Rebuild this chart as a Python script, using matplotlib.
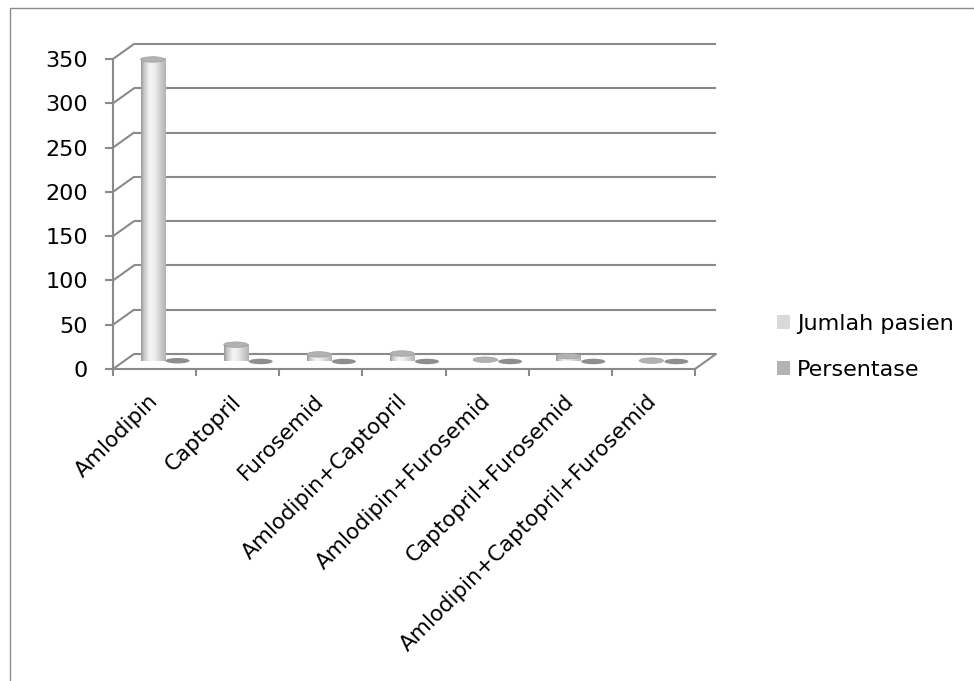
import matplotlib.pyplot as plt
import numpy as np
from matplotlib.patches import Ellipse, Patch, Rectangle, ConnectionPatch

# data
kategori = ["Amlodipin", "Captopril", "Furosemid", "Amlodipin+Captopril",
            "Amlodipin+Furosemid", "Captopril+Furosemid",
            "Amlodipin+Captopril+Furosemid"]
jumlah_pasien = [341, 19, 8, 9, 2, 6, 1]
persentase = [0.883, 0.049, 0.021, 0.023, 0.005, 0.016, 0.003]
y_ticks = [0, 50, 100, 150, 200, 250, 300, 350]

W, H = 974, 681
fig = plt.figure(figsize=(W / 100, H / 100), dpi=100)
plt.rcParams['font.family'] = ['DejaVu Sans']

# front plane of the fake 3d box (pixels) and its depth offset
x0, x1, yb, yt = 113, 695, 369, 59
DX, DY = 21, 15
grid_c = '#8a8a8a'
lw = 1.5


def box(dx, dy):
    return [(x0 + dx) / W, (H - yb + dy) / H, (x1 - x0) / W, (yb - yt) / H]


ax_back = fig.add_axes(box(DX, DY), zorder=0)
ax = fig.add_axes(box(0, 0), zorder=1)
ax_mid = fig.add_axes(box(DX / 2, DY / 2), zorder=2)
n = len(kategori)
for a in (ax_back, ax, ax_mid):
    a.set_facecolor('none')
ax_back.axis('off')
ax_mid.axis('off')

# back wall gridlines + left wall diagonals + floor
ax_back.hlines(y_ticks, 0, n, color=grid_c, lw=lw, clip_on=False)
for v in y_ticks:
    ax_back.add_artist(ConnectionPatch((0, v), (0, v), coordsA=ax.transData,
                                       coordsB=ax_back.transData,
                                       color=grid_c, lw=lw))
ax_back.add_artist(ConnectionPatch((n, 0), (n, 0), coordsA=ax.transData,
                                   coordsB=ax_back.transData,
                                   color=grid_c, lw=lw))

# front axes
for s in ['top', 'right']:
    ax.spines[s].set_visible(False)
for s in ['left', 'bottom']:
    ax.spines[s].set_color(grid_c)
    ax.spines[s].set_linewidth(lw)
ax.set_yticks(y_ticks)
ax.tick_params(axis='y', length=6, width=lw, color=grid_c, pad=12,
               labelsize=16, labelcolor='black')
ax.set_xticks(np.arange(n + 1))
ax.set_xticklabels([])
ax.tick_params(axis='x', which='major', length=5, width=lw, color=grid_c)
ax.set_xticks(np.arange(n) + 0.5, minor=True)
ax.set_xticklabels(kategori, minor=True, rotation=45, ha='right',
                   va='center', rotation_mode='anchor')
ax.tick_params(axis='x', which='minor', length=0, pad=21, labelsize=15.5,
               labelcolor='black')

# cylinders
w = 0.29
eh = 5.5 / ((yb - yt) / 350)
stops = [0, 0.12, 0.35, 0.55, 0.8, 1]
levels = [0.60, 0.78, 0.96, 0.93, 0.80, 0.70]
g = np.interp(np.linspace(0, 1, 60), stops, levels)
grad = np.stack([g, g, g], axis=-1)[np.newaxis, :, :]

for i, v in enumerate(jumlah_pasien):
    xc = i + 0.5 - 0.15
    ax_mid.imshow(grad, extent=[xc - w / 2, xc + w / 2, 0, v],
                  aspect='auto', interpolation='bilinear', zorder=2)
    bottom = Ellipse((xc, 0), w, eh, transform=ax_mid.transData)
    im = ax_mid.imshow(grad, extent=[xc - w / 2, xc + w / 2, -eh / 2, 0],
                       aspect='auto', interpolation='bilinear', zorder=2)
    im.set_clip_path(bottom)
    im.set_clip_box(None)
    ax_mid.add_patch(Ellipse((xc, v), w, eh, fc='#b2b2b2', ec='#a0a0a0',
                             lw=0.5, zorder=3, clip_on=False))

for i, p in enumerate(persentase):
    xc = i + 0.5 + 0.15
    ax_mid.add_patch(Ellipse((xc, p), w, eh, fc='#8e8e8e', ec='none',
                             zorder=3, clip_on=False))

for a in (ax_back, ax, ax_mid):
    a.set_xlim(0, n)
    a.set_ylim(0, 350)

# legend
handles = [Patch(fc='#d9d9d9', ec='none', label='Jumlah pasien'),
           Patch(fc='#b3b3b3', ec='none', label='Persentase')]
fig.legend(handles=handles, loc='center left',
           bbox_to_anchor=(777 / W, 1 - 347 / H), frameon=False,
           fontsize=16, handlelength=0.6, handleheight=0.6,
           handletextpad=0.3, labelspacing=1.15, borderpad=0,
           borderaxespad=0)

# chart border
fig.add_artist(Rectangle((10 / W, -0.05), 1.2, 1.05 - 8 / H,
                         transform=fig.transFigure, fill=False,
                         ec='#8c8c8c', lw=1))

fig.savefig('out.png', dpi=100, facecolor='white')
